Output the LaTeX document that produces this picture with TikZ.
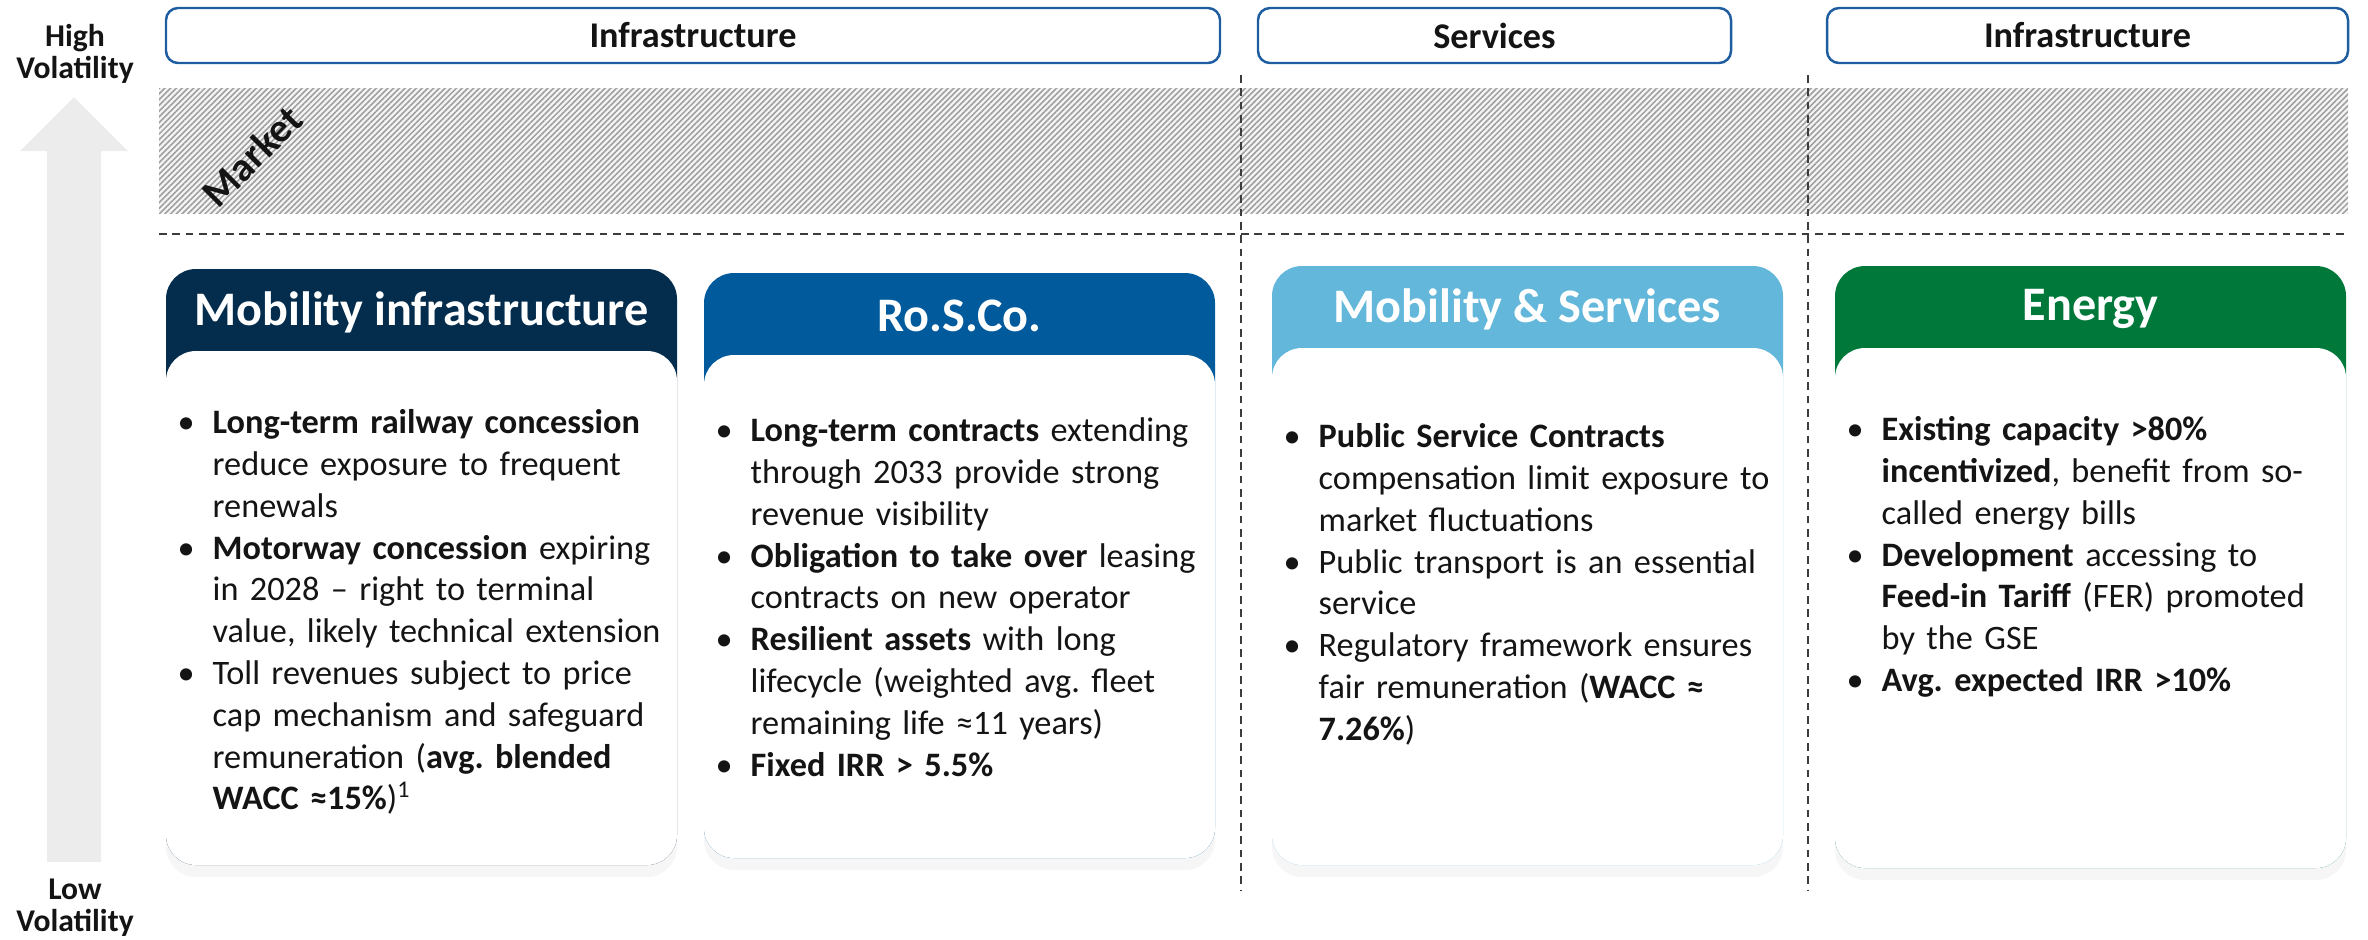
\documentclass[tikz,border=0pt]{standalone}
\usepackage{fontspec}
\setmainfont{Carlito}
\usetikzlibrary{calc,positioning,shadows,patterns.meta}

\definecolor{cNavy}{RGB}{4,44,76}
\definecolor{cBlue}{RGB}{0,90,156}
\definecolor{cSky}{RGB}{98,183,219}
\definecolor{cGreen}{RGB}{0,120,58}
\definecolor{cFrame}{RGB}{30,94,160}
\definecolor{cDash}{RGB}{60,60,60}
\definecolor{cInk}{RGB}{20,20,20}

\newcommand{\bul}{\par\noindent\hangindent=3.5mm\hangafter=1\makebox[3.5mm][l]{\textbullet}}

\begin{document}
\frenchspacing
\hyphenpenalty=10000
\begin{tikzpicture}[x=0.1mm,y=-0.1mm,
  topbox/.style={draw=cFrame, line width=0.7pt, rounded corners=1.2mm, fill=white},
  toplabel/.style={font=\fontsize{10.3}{12}\selectfont\bfseries, text=cInk},
  sepline/.style={cDash, line width=0.5pt, dash pattern=on 2.2pt off 1.6pt},
  cardtitle/.style={font=\fontsize{13.7}{16}\selectfont\bfseries, text=white},
  cardtext/.style={anchor=north west, inner sep=0pt, text width=51mm, align=left,
    font=\fontsize{9.75}{11.9}\selectfont, text=cInk},
  volalabel/.style={align=center, font=\fontsize{9}{9.2}\selectfont\bfseries, text=cInk}]
\useasboundingbox (0,0) rectangle (2368,939);

% volatility axis
\coordinate (cArrowTip) at (74,97);
\coordinate (cArrowBase) at (74,862);
\fill[gray!15] ($(cArrowBase)+(-27,0)$) -- ++(0,-711) -- ++(-27,0) -- (cArrowTip)
  -- ++(54,54) -- ++(-27,0) -- ++(0,711) -- cycle;
\node[volalabel] (nHigh) at (75,54) {High\\Volatility};
\node[volalabel] (nLow) at (75,908) {Low\\Volatility};

% segment headers
\foreach \x/\w/\t/\n in
{   166/1054/Infrastructure/sInfraL,
    1258/473/Services/sServ,
    1827/521/Infrastructure/sInfraR
}
{
    \draw[topbox] (\x,8) rectangle ++(\w,55);
    \node[toplabel] (\n) at (\x+\w/2,35.5) {\t};
};

% market band
\coordinate (cBandL) at (159,88);
\coordinate (cBandR) at (2348,213);
\fill[gray!8] (cBandL) rectangle (cBandR);
\fill[pattern={Lines[angle=45,distance=1.15pt,line width=0.45pt]}, pattern color=gray!75]
  (cBandL) rectangle (cBandR);
\node[rotate=45, font=\fontsize{11.5}{13}\selectfont\bfseries, text=cInk] (nMarket) at (252,156) {Market};

\draw[sepline] (159,234) -- (2348,234);
\foreach \v in {1241, 1808}
{
    \draw[sepline] (\v,75) -- (\v,890);
};

% cards
\foreach \cx/\cy/\cb/\col/\ttl/\nm in
{   166/269/865/cNavy/Mobility infrastructure/hMob,
    704/273/858/cBlue/Ro.S.Co./hRos,
    1272/266/865/cSky/Mobility \& Services/hSrv,
    1835/266/868/cGreen/Energy/hEne
}
{
    \fill[\col, rounded corners=3mm, drop shadow={opacity=0.07, shadow xshift=0mm, shadow yshift=-1.2mm}]
      (\cx,\cy) rectangle (\cx+511,\cb);
    \fill[white, rounded corners=3mm] (\cx,\cy+82) rectangle (\cx+511,\cb);
    \node[cardtitle] (\nm) at (\cx+255.5,\cy+43) {\ttl};
};

\node[cardtext] (tMob) at (177,391) {%
\bul\textbf{Long-term railway concession}\newline reduce exposure to frequent\newline renewals
\bul\textbf{Motorway concession} expiring\newline in 2028 – right to terminal\newline value, likely technical extension
\bul Toll revenues subject to price\newline cap mechanism and safeguard\newline remuneration (\textbf{avg. blended\newline WACC ≈15\%})\textsuperscript{1}\par};

\node[cardtext] (tRos) at (715,399) {%
\bul\textbf{Long-term contracts} extending\newline through 2033 provide strong\newline revenue visibility
\bul\textbf{Obligation to take over} leasing\newline contracts on new operator
\bul\textbf{Resilient assets} with long\newline lifecycle (weighted avg. fleet\newline remaining life ≈11 years)
\bul\textbf{Fixed IRR > 5.5\%}\par};

\node[cardtext] (tSrv) at (1283,405) {%
\bul\textbf{Public Service Contracts}\newline compensation limit exposure to\newline market fluctuations
\bul Public transport is an essential\newline service
\bul Regulatory framework ensures\newline fair remuneration (\textbf{WACC ≈\newline 7.26\%})\par};

\node[cardtext] (tEne) at (1846,398) {%
\bul\textbf{Existing capacity >80\%\newline incentivized}, benefit from so-\newline called energy bills
\bul\textbf{Development} accessing to\newline \textbf{Feed-in Tariff} (FER) promoted\newline by the GSE
\bul\textbf{Avg. expected IRR >10\%}\par};

\end{tikzpicture}
\end{document}
